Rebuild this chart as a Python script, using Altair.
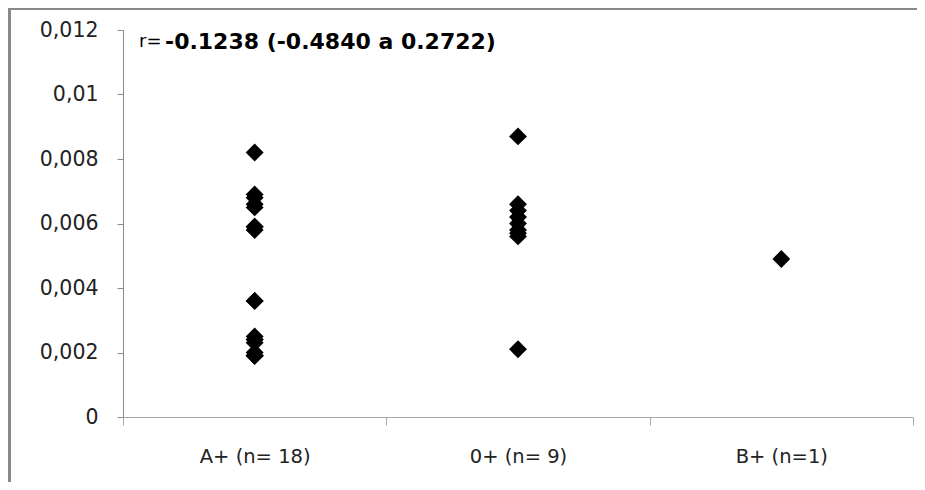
import altair as alt
import pandas as pd

categories = ["A+ (n= 18)", "0+ (n= 9)", "B+ (n=1)"]
a_values = [0.0082, 0.0069, 0.0068, 0.0066, 0.0065, 0.0059, 0.0059, 0.0058, 0.0036,
            0.0036, 0.0025, 0.0024, 0.0024, 0.0023, 0.0020, 0.0019, 0.0019, 0.0019]
o_values = [0.0087, 0.0066, 0.0064, 0.0062, 0.0060, 0.0058, 0.0057, 0.0056, 0.0021]
b_values = [0.0049]
y_ticks = [0, 0.002, 0.004, 0.006, 0.008, 0.01, 0.012]
r_prefix = "r="
r_text = "-0.1238 (-0.4840 a 0.2722)"

rows = []
for cat, vals in zip(categories, [a_values, o_values, b_values]):
    for v in vals:
        rows.append({"group": cat, "value": v})
df = pd.DataFrame(rows)

FONT = "DejaVu Sans"
W, H = 790, 387
PAD = {"left": 115, "top": 22, "right": 4, "bottom": 65}

points = alt.Chart(df).mark_point(
    shape="diamond", filled=True, color="black", size=320, opacity=1
).encode(
    x=alt.X("group:N", sort=categories,
            scale=alt.Scale(type="band", paddingInner=0, paddingOuter=0),
            axis=alt.Axis(title=None, labelAngle=0, tickBand="extent",
                          domainColor="#a8a8a8", tickColor="#a8a8a8", tickSize=8,
                          labelPadding=22, labelFontSize=19.5, labelFont=FONT,
                          labelColor="#222222", grid=False)),
    y=alt.Y("value:Q", scale=alt.Scale(domain=[0, 0.012], nice=False, zero=True),
            axis=alt.Axis(title=None, values=y_ticks, grid=False,
                          labelExpr="replace(format(datum.value, '~r'), '.', ',')",
                          domainColor="#8c8c8c", tickColor="#8c8c8c", tickSize=6,
                          labelPadding=19, labelFontSize=20.5, labelFont=FONT,
                          labelColor="#222222")),
)

label_df = pd.DataFrame({"prefix": [r_prefix], "text": [r_text]})
prefix = alt.Chart(label_df).mark_text(
    align="left", baseline="middle", fontSize=18, font=FONT, color="black"
).encode(x=alt.value(16), y=alt.value(12), text="prefix:N")
bold = alt.Chart(label_df).mark_text(
    align="left", baseline="middle", fontSize=22, font=FONT, fontWeight="bold", color="black"
).encode(x=alt.value(42), y=alt.value(12), text="text:N")

frame_left = alt.Chart(label_df).mark_rect(color="#888888", strokeWidth=0).encode(
    x=alt.value(-115), x2=alt.value(-112), y=alt.value(-22), y2=alt.value(H + PAD["bottom"]))
frame_top = alt.Chart(label_df).mark_rect(color="#888888", strokeWidth=0).encode(
    x=alt.value(-115), x2=alt.value(W + PAD["right"]), y=alt.value(-22), y2=alt.value(-20))

chart = alt.layer(points, prefix, bold, frame_left, frame_top).properties(
    width=W, height=H,
    autosize=alt.AutoSizeParams(type="none"),
    padding=PAD,
).configure_view(strokeWidth=0)

chart.save("out.html", embed_options={"renderer": "svg", "actions": False})
